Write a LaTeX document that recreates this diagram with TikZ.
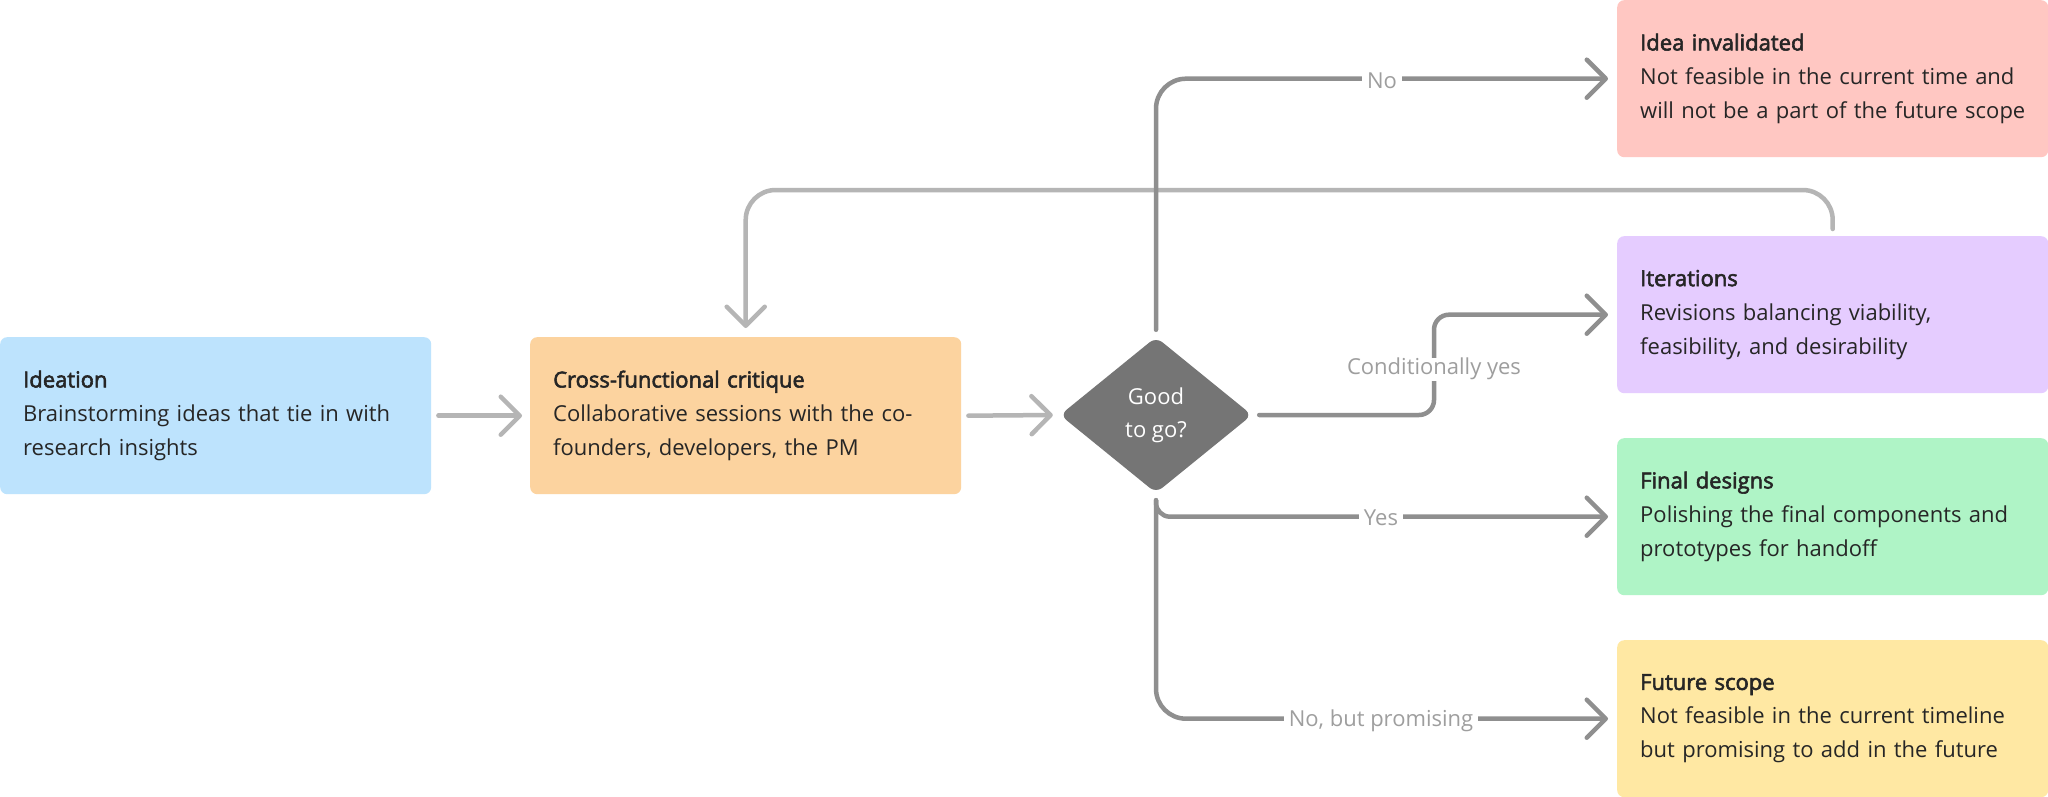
\documentclass[tikz,border=0pt]{standalone}
\usepackage{fontspec}
\setmainfont{Open Sans}[AutoFakeBold=1.6]
\newfontfamily\titlefont{Open Sans}[FakeBold=2.6]
\usetikzlibrary{arrows.meta,shapes.geometric,calc}
\definecolor{cblue}{HTML}{BDE3FD}
\definecolor{corange}{HTML}{FCD39F}
\definecolor{cred}{HTML}{FFC7C2}
\definecolor{cpurple}{HTML}{E5CCFF}
\definecolor{cgreen}{HTML}{AFF4C6}
\definecolor{cyellow}{HTML}{FFE8A3}
\definecolor{dmd}{HTML}{757575}
\definecolor{darkln}{HTML}{8F8F8F}
\definecolor{lightln}{HTML}{B5B5B5}
\definecolor{lblc}{HTML}{9E9E9E}
\definecolor{txt}{HTML}{262626}
\newcommand{\cardtext}[3]{{\titlefont #1}\\\mbox{#2}\\\mbox{#3}}
\begin{document}
\begin{tikzpicture}[x=1pt,y=-1pt,
  card/.style={anchor=north west, minimum width=431pt, minimum height=157pt,
    inner xsep=23pt, inner ysep=0pt, text width=385pt, align=left,
    rounded corners=7pt, font=\fontsize{22}{34}\selectfont, text=txt},
  conn/.style={line width=4.5pt, line cap=round, line join=round,
    -{Straight Barb[length=19pt,width=38pt,round]}},
  darkconn/.style={conn, draw=darkln},
  lightconn/.style={conn, draw=lightln},
  lbl/.style={fill=white, text=lblc, font=\fontsize{22}{25}\selectfont,
    inner xsep=5pt, inner ysep=1pt, text height=16pt, text depth=5pt}]
\useasboundingbox[fill=white] (0,0) rectangle (2048,797);

\node[card, fill=cblue] (id) at (0,337) {\cardtext{Ideation}{Brainstorming ideas that tie in with}{research insights}};
\node[card, fill=corange] (cr) at (530,337) {\cardtext{Cross-functional critique}{Collaborative sessions with the co-}{founders, developers, the PM}};
\node[card, fill=cred] (inv) at (1617,0) {\cardtext{Idea invalidated}{Not feasible in the current time and}{will not be a part of the future scope}};
\node[card, fill=cpurple] (it) at (1617,236) {\cardtext{Iterations}{Revisions balancing viability,}{feasibility, and desirability}};
\node[card, fill=cgreen] (fin) at (1617,438) {\cardtext{Final designs}{Polishing the final components and}{prototypes for handoff}};
\node[card, fill=cyellow] (fut) at (1617,640) {\cardtext{Future scope}{Not feasible in the current timeline}{but promising to add in the future}};

\node[diamond, fill=dmd, minimum width=192pt, minimum height=156pt, inner sep=0pt,
  rounded corners=8pt, text=white, align=center,
  font=\fontsize{22}{33}\selectfont] (dm) at (1156,415) {Good\\to go?};

\coordinate (cy) at (1434,365);

\draw[lightconn] ([xshift=7pt]id.east) -- ([xshift=-8pt]cr.west);
\draw[lightconn] ([xshift=7pt]cr.east) -- ([xshift=-7pt]dm.west);
\draw[lightconn, rounded corners=30pt] ([yshift=7pt]it.north) -- ++(0,-39) -| ([yshift=9pt]cr.north);

\draw[darkconn, rounded corners=30pt] ([yshift=7pt]dm.north) |- ([xshift=-9pt]inv.west);
\draw[darkconn, rounded corners=15pt] ([xshift=7pt]dm.east) -| (cy) |- ([xshift=-9pt]it.west);
\draw[darkconn, rounded corners=14pt] ([yshift=-7pt]dm.south) |- ([xshift=-9pt]fin.west);
\draw[darkconn, rounded corners=30pt] ([yshift=-7pt]dm.south) |- ([xshift=-9pt]fut.west);

\node[lbl] (lno) at (1382,83) {No};
\node[lbl] (lcy) at (1434,369) {Conditionally yes};
\node[lbl] (lyes) at (1381,520) {Yes};
\node[lbl] (lnbp) at (1381,721) {No, but promising};
\end{tikzpicture}
\end{document}
